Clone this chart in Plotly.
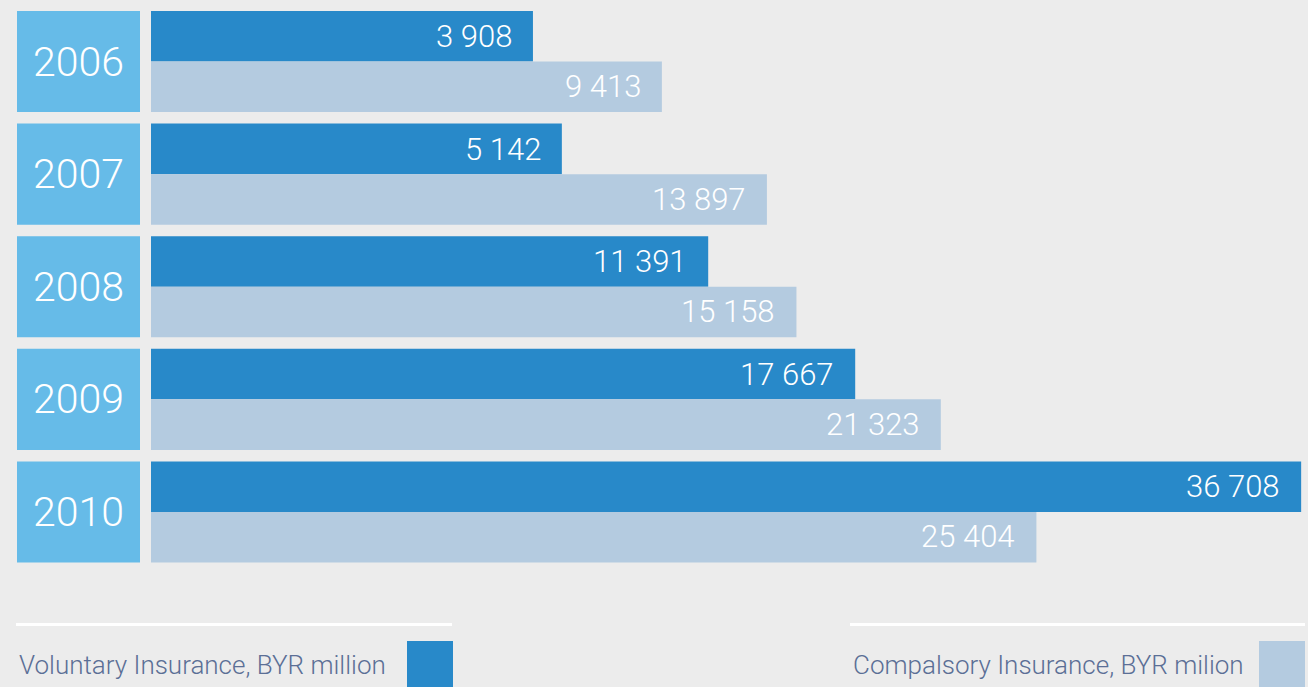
import plotly.graph_objects as go

# ---- data ----
years = ["2006", "2007", "2008", "2009", "2010"]
voluntary = [3908, 5142, 11391, 17667, 36708]
compulsory = [9413, 13897, 15158, 21323, 25404]
series_names = ["Voluntary Insurance, BYR million", "Compalsory Insurance, BYR milion"]

# ---- style ----
W, H = 1308, 687
BG = "#ececec"
C_YEAR = "#66bbe8"
C_VOL = "#2889c9"
C_COMP = "#b4cbe0"
C_LEG = "#5b6f96"
FONT = "Roboto, Liberation Sans Narrow, sans-serif"
BASE = -12400      # bars start from a common offset base (infographic style)
XMAX = 37000
HALF = 0.4485


def fmt(v):
    return f"{v:,}".replace(",", " ")


def px_x(p):
    return p / W


def px_y(p):
    return 1 - p / H


def span(vals):
    # bar drawn from the common base up to the value on the x axis
    return [v - BASE for v in vals]


fig = go.Figure()

# year boxes
fig.add_trace(go.Bar(
    y=years, x=[1] * len(years), orientation="h", xaxis="x2", yaxis="y",
    marker=dict(color=C_YEAR, line=dict(width=0)), width=2 * HALF, offset=-HALF,
    text=years, textposition="inside", insidetextanchor="middle",
    constraintext="none",
    textfont=dict(family=FONT, size=41, color="white", weight=300),
    hoverinfo="skip", showlegend=False,
))

fig.add_trace(go.Bar(
    name=series_names[0], y=years, x=span(voluntary), base=BASE, orientation="h",
    marker=dict(color=C_VOL, line=dict(width=0)), width=HALF, offset=-HALF,
    customdata=voluntary, hovertemplate="%{y}: %{customdata}<extra></extra>",
    showlegend=False,
))
fig.add_trace(go.Bar(
    name=series_names[1], y=years, x=span(compulsory), base=BASE, orientation="h",
    marker=dict(color=C_COMP, line=dict(width=0)), width=HALF, offset=0,
    customdata=compulsory, hovertemplate="%{y}: %{customdata}<extra></extra>",
    showlegend=False,
))

annotations = []
for i, v in enumerate(voluntary):
    annotations.append(dict(x=v, y=i, xref="x", yref="y", text=fmt(v),
                            showarrow=False, xanchor="right", yanchor="middle",
                            xshift=-19, yshift=25,
                            font=dict(family=FONT, size=31, color="white", weight=300)))
for i, v in enumerate(compulsory):
    annotations.append(dict(x=v, y=i, xref="x", yref="y", text=fmt(v),
                            showarrow=False, xanchor="right", yanchor="middle",
                            xshift=-19, yshift=-25,
                            font=dict(family=FONT, size=31, color="white", weight=300)))

# legend texts
annotations.append(dict(x=px_x(17), y=px_y(665), xref="paper", yref="paper",
                        text=series_names[0], showarrow=False, xanchor="left",
                        yanchor="middle",
                        font=dict(family=FONT, size=26, color=C_LEG, weight=300)))
annotations.append(dict(x=px_x(851), y=px_y(665), xref="paper", yref="paper",
                        text=series_names[1], showarrow=False, xanchor="left",
                        yanchor="middle",
                        font=dict(family=FONT, size=26, color=C_LEG, weight=300)))

shapes = [
    dict(type="line", xref="paper", yref="paper", x0=px_x(16), x1=px_x(452),
         y0=px_y(624.5), y1=px_y(624.5), line=dict(color="white", width=3)),
    dict(type="line", xref="paper", yref="paper", x0=px_x(850), x1=px_x(1305),
         y0=px_y(624.5), y1=px_y(624.5), line=dict(color="white", width=3)),
    dict(type="rect", xref="paper", yref="paper", x0=px_x(407), x1=px_x(453),
         y0=px_y(641), y1=px_y(690), fillcolor=C_VOL, line=dict(width=0)),
    dict(type="rect", xref="paper", yref="paper", x0=px_x(1259), x1=px_x(1305),
         y0=px_y(641), y1=px_y(690), fillcolor=C_COMP, line=dict(width=0)),
]

fig.update_layout(
    width=W, height=H,
    margin=dict(l=0, r=0, t=0, b=0),
    paper_bgcolor=BG, plot_bgcolor=BG,
    barmode="overlay",
    xaxis=dict(domain=[px_x(151), 1.0], range=[BASE, XMAX], visible=False,
               showgrid=False, zeroline=False, fixedrange=True),
    xaxis2=dict(domain=[px_x(17), px_x(140)], range=[0, 1], visible=False,
                showgrid=False, zeroline=False, fixedrange=True),
    yaxis=dict(domain=[px_y(568.3), px_y(5.2)], type="category",
               categoryorder="array", categoryarray=years,
               range=[len(years) - 0.5, -0.5], autorange=False,
               visible=False, showgrid=False, zeroline=False, fixedrange=True),
    annotations=annotations,
    shapes=shapes,
    showlegend=False,
)

fig.write_html("out.html")
